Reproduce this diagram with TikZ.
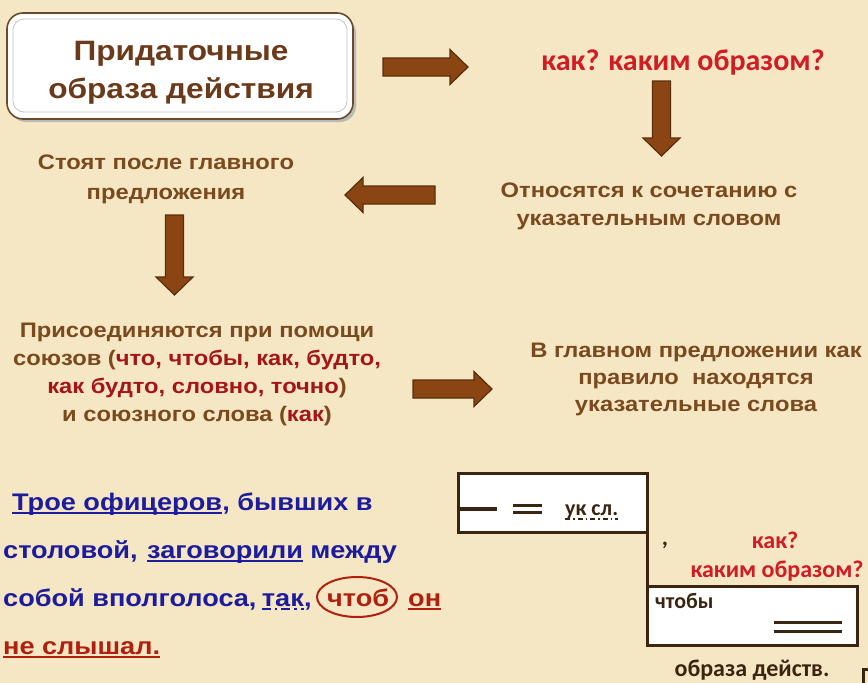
\documentclass[tikz,border=0pt]{standalone}
\usepackage{fontspec}
\setmainfont{Liberation Sans}[FakeStretch=1.13]
\newfontfamily\calib{Carlito}
\usetikzlibrary{calc}
\definecolor{bg}{HTML}{F5E6C4}
\definecolor{brn}{HTML}{7A4A1E}
\definecolor{ttl}{HTML}{6B3A1A}
\definecolor{arrfill}{HTML}{8B4513}
\definecolor{arrline}{HTML}{5A2D0C}
\definecolor{qred}{HTML}{D01C22}
\definecolor{cred}{HTML}{A51515}
\definecolor{sblue}{HTML}{1C1C9C}
\definecolor{sred}{HTML}{B0200F}
\definecolor{sch}{HTML}{3B2410}
\definecolor{frame}{HTML}{6B4A2A}
\newcommand\arrR[3]{\filldraw[arr] ({#1},{#3-9}) -- ({#2-18},{#3-9}) -- ({#2-18},{#3-17.5}) -- ({#2},{#3}) -- ({#2-18},{#3+17.5}) -- ({#2-18},{#3+9}) -- ({#1},{#3+9}) -- cycle;}
\newcommand\arrL[3]{\filldraw[arr] ({#2},{#3-9}) -- ({#1+18},{#3-9}) -- ({#1+18},{#3-17.5}) -- ({#1},{#3}) -- ({#1+18},{#3+17.5}) -- ({#1+18},{#3+9}) -- ({#2},{#3+9}) -- cycle;}
\newcommand\arrD[3]{\filldraw[arr] ({#1-9},{#2}) -- ({#1-9},{#3-18}) -- ({#1-18.5},{#3-18}) -- ({#1},{#3}) -- ({#1+18.5},{#3-18}) -- ({#1+9},{#3-18}) -- ({#1+9},{#2}) -- cycle;}
\begin{document}
\begin{tikzpicture}[x=1pt,y=-1pt,
  arr/.style={fill=arrfill,draw=arrline,line width=1.2pt,line join=miter},
  mid/.style={font=\bfseries\fontsize{21}{28}\selectfont,text=brn,align=center,inner sep=0pt},
  sent/.style={font=\bfseries\fontsize{24}{30}\selectfont,text=sblue,inner sep=0pt,anchor=base west},
  sline/.style={line width=2.4pt},
  schbox/.style={draw=sch,line width=3pt,fill=white,inner sep=0pt,outer sep=0pt},
  cal/.style={font=\calib\bfseries\fontsize{24}{28}\selectfont,inner sep=0pt}]
\useasboundingbox (0,0) rectangle (868,683);
\fill[bg] (0,0) rectangle (868,683);
% title box
\fill[gray!55,rounded corners=16pt] (10,17) rectangle (356,122);
\filldraw[fill=white,draw=frame,line width=1.6pt,rounded corners=16pt] (7,13) rectangle (353,119);
\draw[gray!45,line width=0.8pt,rounded corners=11pt] (13,19) rectangle (347,112);
\node[font=\bfseries\fontsize{28}{38}\selectfont,text=ttl,align=center,inner sep=0pt,anchor=base] (title) at (181,98) {Придаточные\\образа действия};
% arrows
\arrR{383}{468}{67}
\arrD{661.5}{81}{156}
\arrL{345}{435}{195}
\arrD{174.5}{215}{295}
\arrR{413}{492}{389}
% texts
\node[font=\calib\bfseries\fontsize{30}{34}\selectfont,text=qred,anchor=base,inner sep=0pt] (q) at (683,70) {как? каким образом?};
\node[mid,anchor=base] (rel) at (649,225) {Относятся к сочетанию с\\указательным словом};
\node[mid,anchor=base,font=\bfseries\fontsize{21}{30}\selectfont] (after) at (166,199) {Стоят после главного\\предложения};
\node[mid,anchor=base] (conj) at (197,421) {Присоединяются при помощи\\союзов (\textcolor{cred}{что, чтобы, как, будто,}\\\textcolor{cred}{как будто, словно, точно})\\и союзного слова (\textcolor{cred}{как})};
\node[mid,anchor=base,font=\bfseries\fontsize{21}{27}\selectfont] (main) at (696,411) {В главном предложении как\\правило \ находятся\\указательные слова};
% sentence
\node[sent] (s1a) at (12,510) {Трое офицеров};
\node[sent] (s1b) at (s1a.base east) {, бывших в};
\draw[sblue,sline] ([yshift=-3pt]s1a.base west) -- ([yshift=-3pt]s1a.base east);
\node[sent] (s2a) at (3,558) {столовой,};
\node[sent] (s2b) at (147,558) {заговорили};
\node[sent] (s2c) at ([xshift=7pt]s2b.base east) {между};
\draw[sblue,sline] ([yshift=-3pt]s2b.base west) -- ([yshift=-3pt]s2b.base east);
\node[sent] (s3a) at (3,606) {собой вполголоса,};
\node[sent] (s3b) at ([xshift=5pt]s3a.base east) {так};
\node[sent] (s3c) at (s3b.base east) {,};
\draw[sblue,line width=2.4pt,dash pattern=on 9pt off 4pt on 2.5pt off 4pt] ([yshift=-3pt]s3b.base west) -- ([yshift=-3pt]s3b.base east);
\node[sent,text=sred] (s3d) at (327,606) {чтоб};
\draw[sred,line width=2pt] (357,597) ellipse [x radius=40, y radius=20];
\node[sent,text=sred] (s3e) at (408,606) {он};
\draw[sred,sline] ([yshift=-3pt]s3e.base west) -- ([yshift=-3pt]s3e.base east);
\node[sent,text=sred] (s4a) at (3,654) {не слышал.};
\draw[sred,sline] ([yshift=-3pt]s4a.base west) -- ([yshift=-3pt]s4a.base east);
% scheme
\node[schbox,minimum width=189pt,minimum height=59pt] (b1) at (552.5,502.5) {};
\node[schbox,minimum width=210pt,minimum height=59pt] (b2) at (752,615.5) {};
\draw[sch,line width=3pt] (b1.south east) -- (b2.north west);
\draw[sch,line width=3.2pt] (b1.west |- 0,509) -- (497,509);
\draw[sch,line width=3pt] (513,505) -- (542,505) (513,512) -- (542,512);
\node[cal,text=sch,font=\calib\bfseries\fontsize{22}{26}\selectfont,anchor=base west] (uk) at (565,515) {ук сл.};
\draw[sch,line width=1.6pt,dash pattern=on 5pt off 3pt on 1.5pt off 3pt] ([yshift=-4pt]uk.base west) -- ([yshift=-4pt]uk.base east);
\node[cal,text=sch,font=\calib\bfseries\fontsize{22}{26}\selectfont,anchor=base west] (chtoby) at (655,608) {чтобы};
\draw[sch,line width=3pt] (774,622) -- (842,622) (774,631) -- (842,631);
\node[cal,text=sch,anchor=base] (comma) at (665,545) {,};
\node[cal,text=qred,anchor=base] (kak) at (775,548) {как?};
\node[cal,text=qred,anchor=base] (kakim) at (777,577) {каким образом?};
\node[cal,text=sch,anchor=base] (obr) at (752,676) {образа действ.};
\draw[sch,line width=3pt] (863,683) -- (863,669) -- (868,669);
\end{tikzpicture}
\end{document}
